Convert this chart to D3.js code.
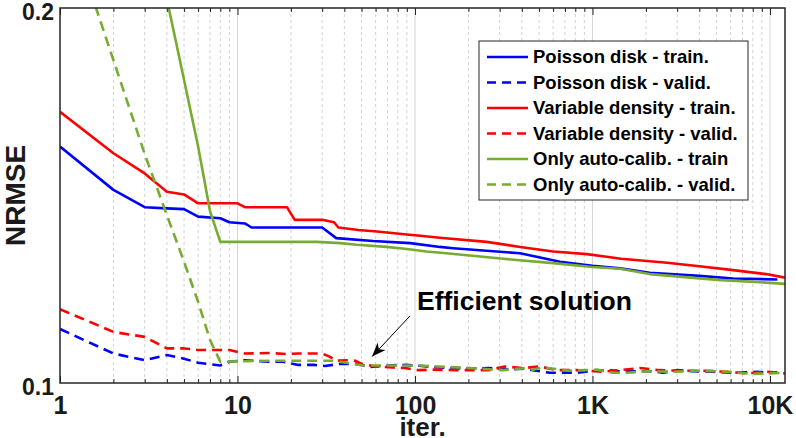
<!DOCTYPE html>
<html>
<head>
<meta charset="utf-8">
<script src="https://cdn.jsdelivr.net/npm/d3@7"></script>
<style>
  body { margin: 0; background: #fff; }
  svg text { font-family: "Liberation Sans", Arial, Helvetica, sans-serif; font-weight: bold; fill: #1a1a1a; }
</style>
</head>
<body>
<div id="main"></div>
<script>
const width = 796;
const height = 438;

// NRMSE per iteration
const poissonTrainIter = [1, 2, 3, 4, 5, 6, 8, 9, 11, 12, 30, 36, 58, 94, 138, 164, 391, 656, 1000, 1430, 2100, 4000, 6200, 11000];
const poissonTrainVal = [0.1548, 0.1429, 0.1384, 0.1381, 0.1379, 0.1360, 0.1356, 0.1346, 0.1343, 0.1333, 0.1333, 0.1307, 0.1300, 0.1295, 0.1286, 0.1283, 0.1271, 0.1251, 0.1242, 0.1236, 0.1226, 0.1219, 0.1213, 0.1211];

const poissonValidIter = [1, 2, 3, 4, 5, 6, 8, 9, 11, 15, 18, 22, 27, 31, 38, 47, 56, 70, 88, 109, 126, 186, 260, 343, 406, 462, 576, 683, 818, 968, 1207, 1429, 1782, 2194, 2497, 2993, 3683, 4775, 6190, 8455, 10000, 11000];
const poissonValidVal = [0.1105, 0.1056, 0.1043, 0.1053, 0.1046, 0.1038, 0.1033, 0.1040, 0.1043, 0.1040, 0.1040, 0.1034, 0.1034, 0.1032, 0.1036, 0.1036, 0.1030, 0.1033, 0.1034, 0.1032, 0.1030, 0.1027, 0.1028, 0.1025, 0.1027, 0.1024, 0.1019, 0.1019, 0.1019, 0.1022, 0.1024, 0.1022, 0.1022, 0.1022, 0.1019, 0.1024, 0.1022, 0.1021, 0.1019, 0.1021, 0.1019, 0.1020];

const varDensTrainIter = [1, 2, 3, 4, 5, 6, 10, 11, 19, 21, 30, 35, 37, 48, 61, 90, 107, 138, 253, 391, 600, 930, 1200, 1450, 2630, 4000, 6200, 9500, 12150];
const varDensTrainVal = [0.1651, 0.1529, 0.1473, 0.1424, 0.1417, 0.1394, 0.1394, 0.1384, 0.1384, 0.1352, 0.1352, 0.1346, 0.1333, 0.1327, 0.1323, 0.1316, 0.1313, 0.1308, 0.1298, 0.1286, 0.1275, 0.1269, 0.1263, 0.1258, 0.1249, 0.1241, 0.1232, 0.1223, 0.1215];

const varDensValidIter = [1, 2, 3, 4, 5, 6, 9, 11, 15, 19, 22, 30, 33, 36, 42, 46, 50, 60, 75, 88, 105, 125, 170, 260, 320, 406, 506, 628, 818, 1146, 1429, 1852, 2400, 3111, 4196, 5700, 7390, 9580, 12150];
const varDensValidVal = [0.1146, 0.1099, 0.1089, 0.1066, 0.1066, 0.1063, 0.1063, 0.1056, 0.1057, 0.1055, 0.1056, 0.1056, 0.1050, 0.1042, 0.1043, 0.1042, 0.1036, 0.1031, 0.1029, 0.1028, 0.1024, 0.1025, 0.1024, 0.1024, 0.1031, 0.1028, 0.1031, 0.1024, 0.1024, 0.1021, 0.1024, 0.1028, 0.1024, 0.1023, 0.1023, 0.1021, 0.1018, 0.1021, 0.1018];

const autoCalTrainIter = [4, 5, 6, 7, 8, 28, 38, 47, 69, 90, 116, 150, 315, 600, 1000, 1430, 2100, 5050, 7740, 12150];
const autoCalTrainVal = [0.2033, 0.1751, 0.1548, 0.1374, 0.1298, 0.1298, 0.1295, 0.1291, 0.1286, 0.1281, 0.1275, 0.1271, 0.1258, 0.1248, 0.1239, 0.1235, 0.1223, 0.1210, 0.1206, 0.1201];

const autoCalValidIter = [1, 2, 3, 4, 5, 6, 7, 8, 15, 25, 34, 41, 51, 64, 102, 132, 204, 313, 426, 462, 526, 747, 1060, 1303, 1563, 2027, 2844, 4035, 5726, 8020, 12150];
const autoCalValidVal = [0.2442, 0.1816, 0.1527, 0.1364, 0.1251, 0.1162, 0.1083, 0.1040, 0.1042, 0.1042, 0.1042, 0.1038, 0.1033, 0.1033, 0.1033, 0.1031, 0.1028, 0.1024, 0.1028, 0.1025, 0.1029, 0.1023, 0.1025, 0.1019, 0.1019, 0.1022, 0.1021, 0.1023, 0.1021, 0.1017, 0.1019];

const seriesNames = [
  "Poisson disk - train.",
  "Poisson disk - valid.",
  "Variable density - train.",
  "Variable density - valid.",
  "Only auto-calib. - train",
  "Only auto-calib. - valid.",
];
const seriesColors = ["#0000ff", "#0000ff", "#ff0000", "#ff0000", "#77ac30", "#77ac30"];
const seriesDashed = [false, true, false, true, false, true];
const seriesIters = [poissonTrainIter, poissonValidIter, varDensTrainIter, varDensValidIter, autoCalTrainIter, autoCalValidIter];
const seriesVals = [poissonTrainVal, poissonValidVal, varDensTrainVal, varDensValidVal, autoCalTrainVal, autoCalValidVal];

const xMax = 12150;
const yTicks = [0.1, 0.2];
const xMajorTicks = [1, 10, 100, 1000, 10000];
const xTickLabels = ["1", "10", "100", "1K", "10K"];

// annotation anchor points (data coords)
const noteText = "Efficient solution";
const notePos = [102.6, 0.1144];
const arrowFrom = [93.7, 0.1132];
const arrowTo = [57.3, 0.1050];

const plotLeft = 60, plotRight = 785, plotTop = 8, plotBottom = 383;

const x = d3.scaleLog().domain([1, xMax]).range([plotLeft, plotRight]);
const y = d3.scaleLog().domain([0.1, 0.2]).range([plotBottom, plotTop]);

const svg = d3.select("#main").append("svg").attr("width", width).attr("height", height);

svg.append("rect").attr("width", width).attr("height", height).attr("fill", "#fff");

const defs = svg.append("defs");
defs.append("clipPath").attr("id", "plot-clip")
  .append("rect")
  .attr("x", plotLeft).attr("y", plotTop)
  .attr("width", plotRight - plotLeft).attr("height", plotBottom - plotTop);

defs.append("marker")
  .attr("id", "arrowhead")
  .attr("markerUnits", "userSpaceOnUse")
  .attr("viewBox", "-14 -6 15 12")
  .attr("refX", 0).attr("refY", 0)
  .attr("markerWidth", 15).attr("markerHeight", 12)
  .attr("orient", "auto")
  .append("path")
  .attr("d", "M0,0 L-14,-5.5 L-10,0 L-14,5.5 Z")
  .attr("fill", "#000");

// grid
const allTicks = x.ticks().filter((t) => t > 1 && t <= xMax);
const isMajor = (t) => xMajorTicks.includes(t);

svg.append("g").selectAll("line")
  .data(allTicks)
  .enter()
  .append("line")
  .attr("x1", (t) => x(t)).attr("x2", (t) => x(t))
  .attr("y1", plotTop).attr("y2", plotBottom)
  .attr("stroke", (t) => (isMajor(t) ? "#d6d6d6" : "#d2d2d2"))
  .attr("stroke-width", 1)
  .attr("stroke-dasharray", (t) => (isMajor(t) ? null : "3,3"));

// ticks, bottom and top
const minorTicks = allTicks.filter((t) => !isMajor(t));

svg.append("g")
  .attr("transform", `translate(0,${plotBottom})`)
  .call(d3.axisBottom(x).tickValues(minorTicks).tickSize(-4).tickFormat(""))
  .call((g) => g.select(".domain").remove());
svg.append("g")
  .attr("transform", `translate(0,${plotTop})`)
  .call(d3.axisTop(x).tickValues(minorTicks).tickSize(-4).tickFormat(""))
  .call((g) => g.select(".domain").remove());
svg.append("g")
  .attr("transform", `translate(0,${plotTop})`)
  .call(d3.axisTop(x).tickValues(xMajorTicks).tickSize(-7).tickFormat(""))
  .call((g) => g.select(".domain").remove());

const xAxis = svg.append("g")
  .attr("transform", `translate(0,${plotBottom})`)
  .call(
    d3.axisBottom(x)
      .tickValues(xMajorTicks)
      .tickSize(-7)
      .tickPadding(13)
      .tickFormat((d, i) => xTickLabels[i])
  );
xAxis.select(".domain").remove();
xAxis.selectAll(".tick text").style("font-size", "25px").attr("fill", "#1a1a1a");
svg.selectAll(".tick line").attr("stroke", "#262626");

const yAxis = svg.append("g")
  .attr("transform", `translate(${plotLeft},0)`)
  .call(d3.axisLeft(y).tickValues(yTicks).tickSize(0).tickPadding(6).tickFormat(d3.format(".1f")));
yAxis.select(".domain").remove();
yAxis.selectAll(".tick text").style("font-size", "23px").attr("dy", "0.52em").attr("fill", "#1a1a1a");

// lines
const line = d3.line().x((d) => x(d[0])).y((d) => y(d[1]));

const plot = svg.append("g").attr("clip-path", "url(#plot-clip)");

seriesNames.forEach((name, i) => {
  const pts = seriesIters[i].map((it, j) => [it, seriesVals[i][j]]);
  plot.append("path")
    .datum(pts)
    .attr("d", line)
    .attr("fill", "none")
    .attr("stroke", seriesColors[i])
    .attr("stroke-width", 2.6)
    .attr("stroke-linejoin", "round")
    .attr("stroke-dasharray", seriesDashed[i] ? "10,6" : null);
});

// frame
svg.append("rect")
  .attr("x", plotLeft).attr("y", plotTop)
  .attr("width", plotRight - plotLeft).attr("height", plotBottom - plotTop)
  .attr("fill", "none")
  .attr("stroke", "#262626")
  .attr("stroke-width", 1.5);

// axis titles
svg.append("text")
  .attr("x", (plotLeft + plotRight) / 2)
  .attr("y", 436)
  .attr("text-anchor", "middle")
  .style("font-size", "26px")
  .text("iter.");

svg.append("text")
  .attr("transform", `translate(25,${(plotTop + plotBottom) / 2}) rotate(-90)`)
  .attr("text-anchor", "middle")
  .style("font-size", "28px")
  .text("NRMSE");

// annotation
svg.append("line")
  .attr("x1", x(arrowFrom[0])).attr("y1", y(arrowFrom[1]))
  .attr("x2", x(arrowTo[0])).attr("y2", y(arrowTo[1]))
  .attr("stroke", "#000")
  .attr("stroke-width", 1)
  .attr("marker-end", "url(#arrowhead)");

svg.append("text")
  .attr("x", x(notePos[0]))
  .attr("y", y(notePos[1]))
  .style("font-size", "26.5px")
  .style("fill", "#000")
  .text(noteText);

// legend
const legend = svg.append("g").attr("transform", "translate(479,41)");
legend.append("rect")
  .attr("width", 269).attr("height", 159)
  .attr("fill", "#fff")
  .attr("stroke", "#262626")
  .attr("stroke-width", 1);

const rows = legend.selectAll("g.row")
  .data(seriesNames)
  .enter()
  .append("g")
  .attr("class", "row")
  .attr("transform", (d, i) => `translate(0,${16 + i * 25.5})`);

rows.append("line")
  .attr("x1", 8).attr("x2", 49)
  .attr("stroke", (d, i) => seriesColors[i])
  .attr("stroke-width", 2.6)
  .attr("stroke-dasharray", (d, i) => (seriesDashed[i] ? "9,6" : null));

rows.append("text")
  .attr("x", 54)
  .attr("dy", "0.35em")
  .style("font-size", "18.5px")
  .style("fill", "#000")
  .text((d) => d);
</script>
</body>
</html>
